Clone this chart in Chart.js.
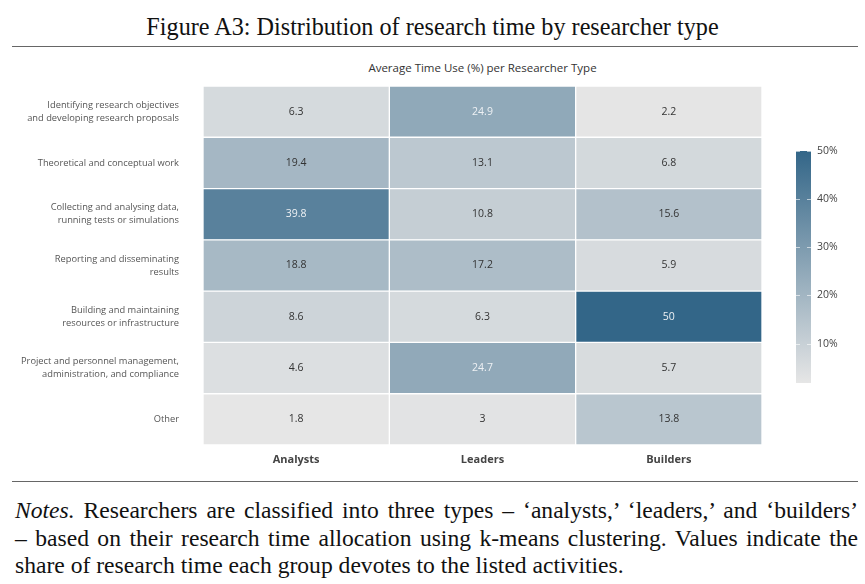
<!DOCTYPE html>
<html>
<head>
<meta charset="utf-8">
<script src="https://cdn.jsdelivr.net/npm/chart.js@4.4.1/dist/chart.umd.min.js"></script>
<style>
  html, body { margin: 0; padding: 0; background: #fff; }
  body { width: 865px; height: 584px; position: relative; overflow: hidden; }
  #fig-title { position: absolute; left: 0; top: 13px; width: 865px; text-align: center;
    font-family: "Liberation Serif", serif; font-size: 24.2px; color: #111; }
  .rule { position: absolute; left: 12px; width: 846px; height: 0; border-top: 1.5px solid #666; }
  #sub-title { position: absolute; left: 203px; top: 60px; width: 559px; text-align: center;
    font-family: "Open Sans", sans-serif; font-size: 11.5px; color: #333; }
  .note-line { position: absolute; left: 15px; width: 843px;
    font-family: "Liberation Serif", serif; font-size: 23.6px; color: #111; white-space: nowrap; }
  .justify { text-align: justify; text-align-last: justify; white-space: normal; }
  #heat { position: absolute; left: 0; top: 86px; }
  #cbar { position: absolute; left: 790px; top: 141px; }
</style>
</head>
<body>
<div id="fig-title">Figure A3: Distribution of research time by researcher type</div>
<div class="rule" style="top:46px"></div>
<div id="sub-title">Average Time Use (%) per Researcher Type</div>
<canvas id="heat" width="770" height="389"></canvas>
<canvas id="cbar" width="75" height="252"></canvas>
<div class="rule" style="top:481px"></div>
<div class="note-line justify" style="top:497px"><i>Notes.</i> Researchers are classified into three types – ‘analysts,’ ‘leaders,’ and ‘builders’</div>
<div class="note-line justify" style="top:525px">– based on their research time allocation using k-means clustering. Values indicate the</div>
<div class="note-line" style="top:552px">share of research time each group devotes to the listed activities.</div>
<script>
// --- Data ---
const activities = [
    ['Identifying research objectives', 'and developing research proposals'],
    'Theoretical and conceptual work',
    ['Collecting and analysing data,', 'running tests or simulations'],
    ['Reporting and disseminating', 'results'],
    ['Building and maintaining', 'resources or infrastructure'],
    ['Project and personnel management,', 'administration, and compliance'],
    'Other'
];
const researcherTypes = ['Analysts', 'Leaders', 'Builders'];
const analysts = [6.3, 19.4, 39.8, 18.8, 8.6, 4.6, 1.8];
const leaders = [24.9, 13.1, 10.8, 17.2, 6.3, 24.7, 3];
const builders = [2.2, 6.8, 15.6, 5.9, 50, 5.7, 13.8];
const colorTicks = [10, 20, 30, 40, 50];

const seriesByType = [analysts, leaders, builders];
const allValues = seriesByType.flat();
const vMin = Math.min(...allValues);
const vMax = Math.max(...allValues);

// --- Colour scale ---
const lowColor = [230, 230, 230];
const highColor = [51, 102, 136];
function colorFor(v) {
    const t = (v - vMin) / (vMax - vMin);
    const c = lowColor.map((lo, i) => Math.round(lo + (highColor[i] - lo) * t));
    return `rgb(${c[0]}, ${c[1]}, ${c[2]})`;
}

// keep the plot area where we put it: no extra room for edge labels
function noEdgePadding(axis) {
    axis.paddingTop = 0;
    axis.paddingBottom = 0;
    axis.paddingLeft = 0;
    axis.paddingRight = 0;
}

// --- Heatmap (floating horizontal bars, one dataset per researcher type) ---
const datasets = seriesByType.map((values, j) => ({
    label: researcherTypes[j],
    data: values.map(() => [j - 0.5, j + 0.5]),
    cellValues: values,
    backgroundColor: values.map(colorFor),
    borderColor: '#ffffff',
    borderWidth: 1,
    borderSkipped: false,
    barPercentage: 1,
    categoryPercentage: 1,
    grouped: false
}));

const cellLabels = {
    id: 'cellLabels',
    afterDatasetsDraw(chart) {
        const ctx = chart.ctx;
        ctx.save();
        ctx.font = '10.5px "Open Sans", sans-serif';
        ctx.textAlign = 'center';
        ctx.textBaseline = 'middle';
        chart.data.datasets.forEach((ds, di) => {
            chart.getDatasetMeta(di).data.forEach((bar, i) => {
                const v = ds.cellValues[i];
                ctx.fillStyle = v > 22 ? '#eef1f4' : '#333333';
                ctx.fillText(String(v), (bar.x + bar.base) / 2, bar.y);
            });
        });
        ctx.restore();
    }
};

new Chart(document.getElementById('heat'), {
    type: 'bar',
    data: { labels: activities, datasets },
    options: {
        indexAxis: 'y',
        responsive: false,
        animation: false,
        layout: { padding: { right: 8, top: 0, bottom: 0, left: 0 } },
        plugins: { legend: { display: false }, tooltip: { enabled: false } },
        scales: {
            x: {
                type: 'linear',
                min: -0.5,
                max: 2.5,
                grid: { display: false, drawTicks: false },
                border: { display: false },
                afterBuildTicks: axis => { axis.ticks = researcherTypes.map((_, i) => ({ value: i })); },
                afterFit: axis => { axis.height = 30; noEdgePadding(axis); },
                ticks: {
                    padding: 8,
                    color: '#444',
                    font: { family: 'Open Sans', size: 11, weight: 'bold' },
                    callback: v => researcherTypes[v]
                }
            },
            y: {
                grid: { display: false, drawTicks: false },
                border: { display: false },
                afterFit: axis => { axis.width = 203; noEdgePadding(axis); },
                ticks: {
                    padding: 24,
                    color: '#555',
                    font: { family: 'Open Sans', size: 9.3, lineHeight: 1.4 }
                }
            }
        }
    },
    plugins: [cellLabels]
});

// --- Colour bar ---
// short light marks on both edges of the bar at each tick
const barTickMarks = {
    id: 'barTickMarks',
    afterDatasetsDraw(chart) {
        const { ctx, chartArea } = chart;
        const scale = chart.scales.y;
        ctx.save();
        ctx.strokeStyle = 'rgba(255, 255, 255, 0.6)';
        ctx.lineWidth = 1;
        scale.ticks.forEach(t => {
            const y = Math.round(scale.getPixelForValue(t.value)) + 0.5;
            ctx.beginPath();
            ctx.moveTo(chartArea.left, y);
            ctx.lineTo(chartArea.left + 4, y);
            ctx.moveTo(chartArea.right - 4, y);
            ctx.lineTo(chartArea.right, y);
            ctx.stroke();
        });
        ctx.restore();
    }
};

new Chart(document.getElementById('cbar'), {
    type: 'bar',
    data: {
        labels: [''],
        datasets: [{
            data: [[vMin, vMax]],
            barPercentage: 1,
            categoryPercentage: 1,
            borderSkipped: false,
            backgroundColor: ctx => {
                const area = ctx.chart.chartArea;
                if (!area) return colorFor(vMax);
                const g = ctx.chart.ctx.createLinearGradient(0, area.bottom, 0, area.top);
                g.addColorStop(0, colorFor(vMin));
                g.addColorStop(1, colorFor(vMax));
                return g;
            }
        }]
    },
    options: {
        responsive: false,
        animation: false,
        layout: { padding: { top: 10, bottom: 10, left: 6, right: 0 } },
        plugins: { legend: { display: false }, tooltip: { enabled: false } },
        scales: {
            x: { display: false },
            y: {
                position: 'right',
                min: vMin,
                max: vMax,
                grid: { display: false, drawTicks: false },
                border: { display: false },
                afterBuildTicks: axis => { axis.ticks = colorTicks.map(v => ({ value: v })); },
                afterFit: axis => { axis.width = 54; noEdgePadding(axis); },
                ticks: {
                    padding: 6,
                    color: '#444',
                    font: { family: 'Open Sans', size: 10.5 },
                    callback: v => v + '%'
                }
            }
        }
    },
    plugins: [barTickMarks]
});
</script>
</body>
</html>
